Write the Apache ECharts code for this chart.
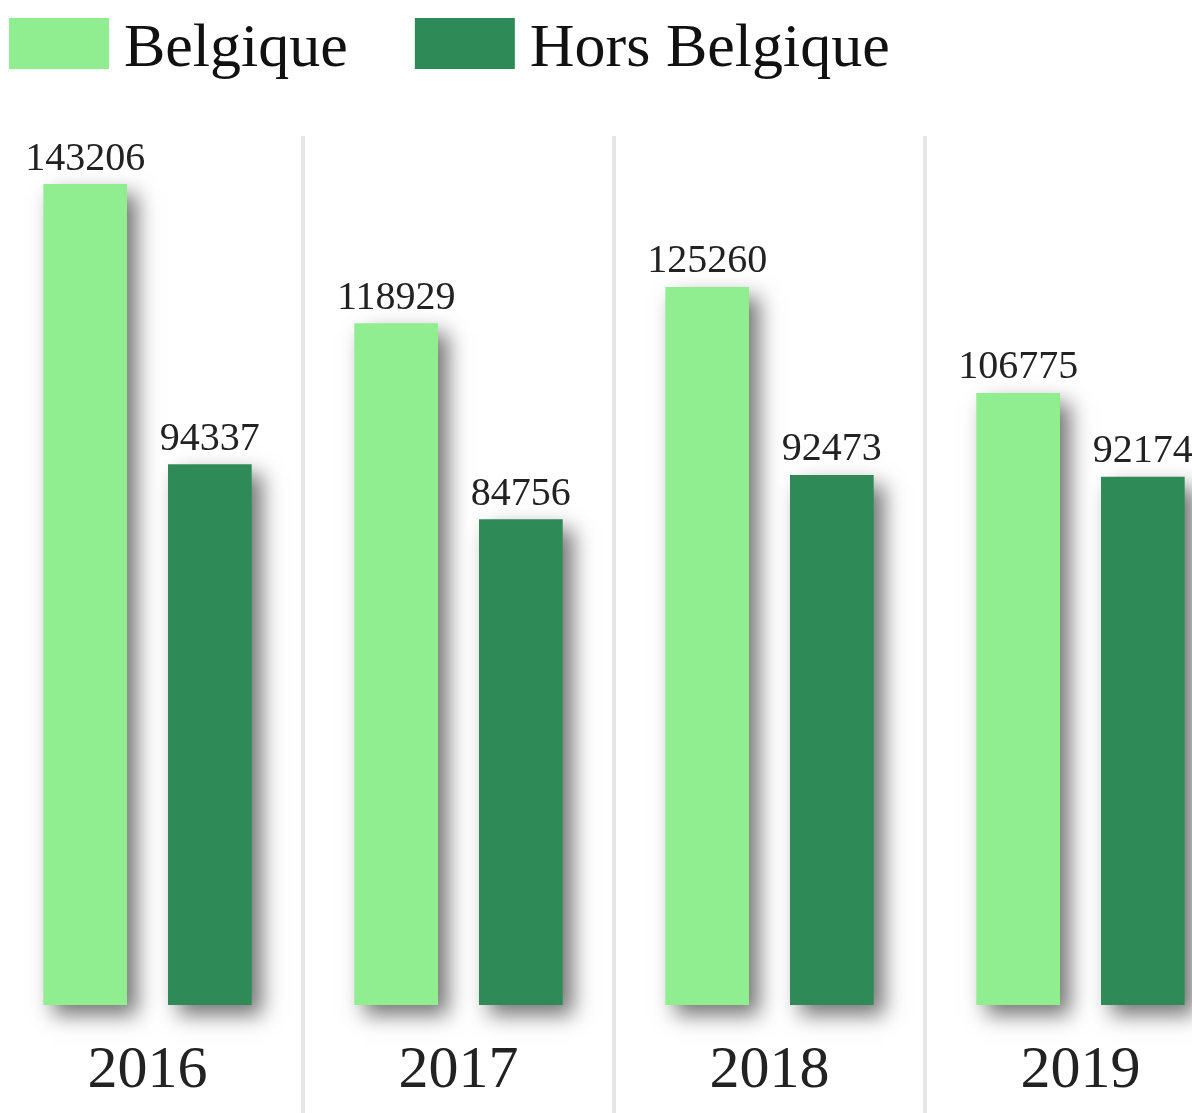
<!DOCTYPE html>
<html>
<head>
<meta charset="utf-8">
<script src="https://cdn.jsdelivr.net/npm/echarts@6/dist/echarts.min.js"></script>
<style>
	html, body { margin: 0; padding: 0; background: #fff; }
	#chart { width: 1192px; height: 1113px; }
</style>
</head>
<body>
<div id="chart"></div>
<script>
var years = ['2016', '2017', '2018', '2019'];
var belgique = [143206, 118929, 125260, 106775];
var horsBelgique = [94337, 84756, 92473, 92174];

var serif = "'Liberation Serif', 'Times New Roman', serif";

var barChart = echarts.init(document.getElementById('chart'));

function barSeries(name, data, color) {
	return {
		name: name,
		type: 'bar',
		data: data,
		barGap: '49%',
		barCategoryGap: '33%',
		itemStyle: {
			color: color,
			shadowColor: 'rgba(0,0,0,0.55)',
			shadowBlur: 20,
			shadowOffsetX: 10,
			shadowOffsetY: 10
		},
		label: {
			show: true,
			position: 'top',
			distance: 5,
			color: '#222',
			fontFamily: serif,
			fontSize: 40
		}
	};
}

var option = {
	animation: false,
	legend: {
		left: 4,
		top: 13,
		icon: 'rect',
		itemWidth: 100,
		itemHeight: 51,
		itemGap: 67,
		formatter: '{t|{name}}',
		textStyle: {
			fontFamily: serif,
			fontSize: 62,
			color: '#111',
			padding: [0, 0, 0, 10],
			rich: {
				t: {
					fontFamily: serif,
					fontSize: 62,
					color: '#111',
					padding: [12, 0, 0, 0]
				}
			}
		},
		data: ['Belgique', 'Hors Belgique']
	},
	grid: {
		left: -8,
		width: 1244,
		top: 136,
		bottom: 108,
		outerBoundsMode: 'none',
		containLabel: false
	},
	xAxis: {
		type: 'category',
		data: years,
		axisLine: { show: false },
		axisTick: {
			show: true,
			length: 110,
			lineStyle: { color: '#e6e6e6', width: 4 }
		},
		splitLine: {
			show: true,
			lineStyle: { color: '#e6e6e6', width: 4 }
		},
		axisLabel: {
			margin: 36,
			fontFamily: serif,
			fontSize: 60,
			color: '#222'
		}
	},
	yAxis: {
		type: 'value',
		min: 0,
		max: 151600,
		show: false,
		splitLine: { show: false }
	},
	series: [
		barSeries('Belgique', belgique, '#90EE90'),
		barSeries('Hors Belgique', horsBelgique, '#2E8B57')
	]
};
barChart.setOption(option);
</script>
</body>
</html>
